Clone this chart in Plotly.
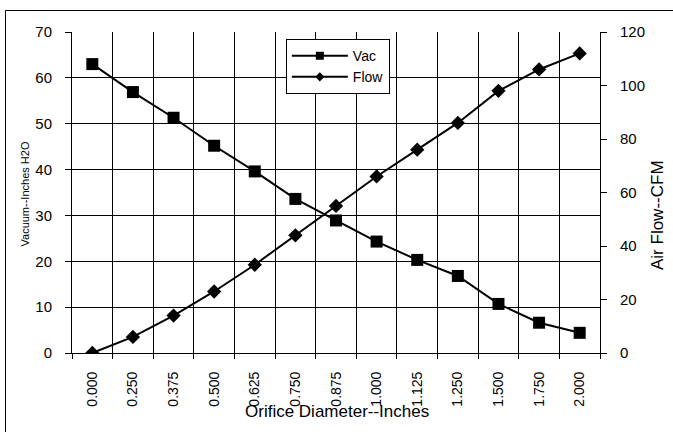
import plotly.graph_objects as go

orifice = ["0.000", "0.250", "0.375", "0.500", "0.625", "0.750", "0.875",
           "1.000", "1.125", "1.250", "1.500", "1.750", "2.000"]
vac = [63.0, 56.9, 51.3, 45.2, 39.6, 33.6, 28.9, 24.3, 20.3, 16.8, 10.7, 6.6, 4.4]
flow = [0, 6, 14, 23, 33, 44, 55, 66, 76, 86, 98, 106, 112]

FONT = "Arial, Liberation Sans, sans-serif"
BLACK = "#000000"

fig = go.Figure()

fig.add_trace(go.Scatter(
    x=orifice, y=vac, mode="lines+markers", name="Vac", showlegend=False,
    line=dict(color=BLACK, width=2),
    marker=dict(symbol="square", size=12, color=BLACK),
))
fig.add_trace(go.Scatter(
    x=orifice, y=flow, mode="lines+markers", name="Flow", yaxis="y2", showlegend=False,
    line=dict(color=BLACK, width=2),
    marker=dict(symbol="diamond", size=11, color=BLACK),
))
# legend-only entries (smaller legend symbols as in the reference)
fig.add_trace(go.Scatter(
    x=[None], y=[None], mode="lines+markers", name="Vac",
    line=dict(color=BLACK, width=2),
    marker=dict(symbol="square", size=8, color=BLACK),
))
fig.add_trace(go.Scatter(
    x=[None], y=[None], mode="lines+markers", name="Flow",
    line=dict(color=BLACK, width=2),
    marker=dict(symbol="diamond", size=7, color=BLACK),
))

L, R, T, B = 72, 73, 32, 79

fig.update_layout(
    width=673, height=432,
    margin=dict(l=L, r=R, t=T, b=B),
    paper_bgcolor="white", plot_bgcolor="white",
    font=dict(family=FONT, color=BLACK),
    xaxis=dict(
        type="category", categoryorder="array", categoryarray=orifice,
        range=[-0.5, len(orifice) - 0.5],
        tickson="boundaries", ticks="outside", ticklen=5, tickcolor=BLACK,
        tickangle=-90, tickfont=dict(size=14, family=FONT, color=BLACK),
        ticklabelstandoff=12,
        showgrid=True, gridcolor=BLACK, gridwidth=1,
        showline=True, linecolor=BLACK, linewidth=1,
        zeroline=False, fixedrange=True,
    ),
    yaxis=dict(
        range=[0, 70], dtick=10, tick0=0,
        ticks="outside", ticklen=6, tickcolor=BLACK,
        tickfont=dict(size=15, family=FONT, color=BLACK),
        ticklabelstandoff=10,
        showgrid=True, gridcolor=BLACK, gridwidth=1,
        showline=True, linecolor=BLACK, linewidth=1,
        zeroline=False, fixedrange=True,
    ),
    yaxis2=dict(
        overlaying="y", side="right",
        range=[0, 120], dtick=20, tick0=0,
        ticks="outside", ticklen=6, tickcolor=BLACK,
        tickfont=dict(size=15, family=FONT, color=BLACK),
        ticklabelstandoff=10,
        showgrid=False,
        showline=True, linecolor=BLACK, linewidth=1,
        zeroline=False, fixedrange=True,
    ),
    legend=dict(
        x=0.405, y=0.978, xanchor="left", yanchor="top",
        bgcolor="white", bordercolor=BLACK, borderwidth=1,
        font=dict(size=14, family=FONT, color=BLACK),
        tracegroupgap=0, itemwidth=56,
    ),
    showlegend=True,
)

pw = 673 - L - R
ph = 432 - T - B

def px(xp):
    return (xp - L) / pw

def py(yp):
    return (432 - B - yp) / ph

fig.add_annotation(
    text="Orifice Diameter--Inches", xref="paper", yref="paper",
    x=px(337), y=py(411), xanchor="center", yanchor="middle",
    showarrow=False, font=dict(size=17, family=FONT, color=BLACK),
)
fig.add_annotation(
    text="Vacuum--Inches H2O", xref="paper", yref="paper",
    x=px(24.5), y=py(194), xanchor="center", yanchor="middle", textangle=-90,
    showarrow=False, font=dict(size=11, family=FONT, color=BLACK),
)
fig.add_annotation(
    text="Air Flow--CFM", xref="paper", yref="paper",
    x=px(658), y=py(215), xanchor="center", yanchor="middle", textangle=-90,
    showarrow=False, font=dict(size=17, family=FONT, color=BLACK),
)

# outer chart frame (only left and top edges fall inside the picture)
fig.add_shape(type="rect", xref="paper", yref="paper", layer="above",
              x0=px(5.5), x1=px(720), y0=py(470), y1=py(10.5),
              line=dict(color=BLACK, width=1), fillcolor="rgba(0,0,0,0)")

fig.write_html(
    "out.html",
    config={"displayModeBar": False},
    post_script="document.body.style.margin='0';document.body.style.overflow='hidden';",
)
